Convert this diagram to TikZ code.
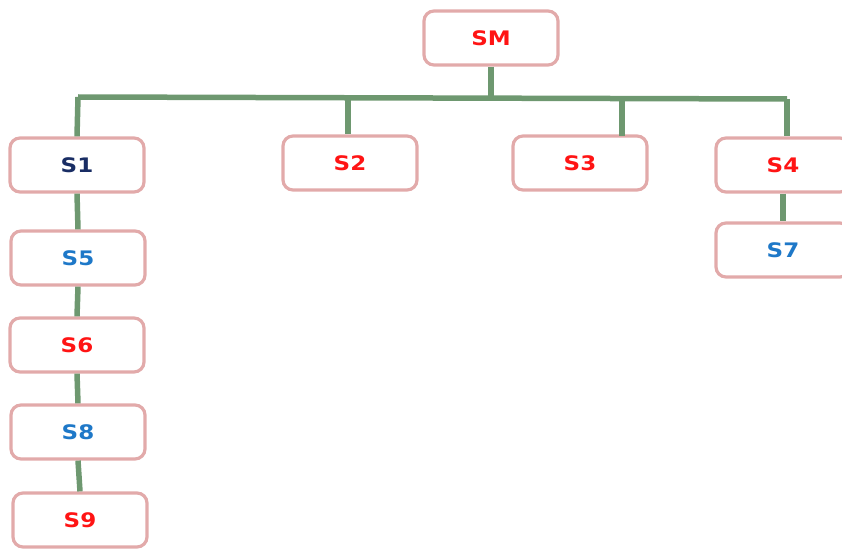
\documentclass[tikz,border=0pt]{standalone}
\usepackage{fontspec}
\newfontfamily\labfont[FakeStretch=1.15]{DejaVu Sans Bold}
\definecolor{boxline}{RGB}{226,170,170}
\definecolor{conn}{RGB}{110,152,112}
\definecolor{tred}{RGB}{255,20,20}
\definecolor{tblue}{RGB}{30,120,200}
\definecolor{tnavy}{RGB}{25,45,100}
\begin{document}
\begin{tikzpicture}[x=1pt,y=-1pt,
  sbox/.style={draw=boxline,line width=3.2pt,rounded corners=10pt,fill=white,
    minimum width=134pt,minimum height=54pt,inner sep=0pt,
    font=\labfont\fontsize{20}{23}\selectfont},
  link/.style={draw=conn,line width=5.5pt}]
\useasboundingbox (0,0) rectangle (842,548);
\clip (0,0) rectangle (842,548);
% bus
\coordinate (busL) at (78,97);
\coordinate (busR) at (787,99);
\coordinate (busM) at (491,97);
\coordinate (b2) at (348,98);
\coordinate (b3) at (622,98);
\coordinate (b4) at (787,99);
\node[sbox,text=tred] (SM) at (491,38) {SM};
\node[sbox,text=tnavy] (S1) at (77,165) {S1};
\node[sbox,text=tred] (S2) at (350,163) {S2};
\node[sbox,text=tred] (S3) at (580,163) {S3};
\node[sbox,text=tred] (S4) at (783,165) {S4};
\node[sbox,text=tblue] (S7) at (783,250) {S7};
\node[sbox,text=tblue] (S5) at (78,258) {S5};
\node[sbox,text=tred] (S6) at (77,345) {S6};
\node[sbox,text=tblue] (S8) at (78,432) {S8};
\node[sbox,text=tred] (S9) at (80,520) {S9};
\coordinate (d3) at (622,136);
\draw[link] (SM.south) -- (busM);
\draw[link] (busL) -- (busR);
\draw[link] (busL) -- (S1.north);
\draw[link] (b2) -- (b2 |- S2.north);
\draw[link] (b3) -- (d3);
\draw[link] (b4) -- (b4 |- S4.north);
\draw[link] (S4.south) -- (S7.north);
\draw[link] (S1.south) -- (S5.north);
\draw[link] (S5.south) -- (S6.north);
\draw[link] (S6.south) -- (S8.north);
\draw[link] (S8.south) -- (S9.north);
\end{tikzpicture}
\end{document}
